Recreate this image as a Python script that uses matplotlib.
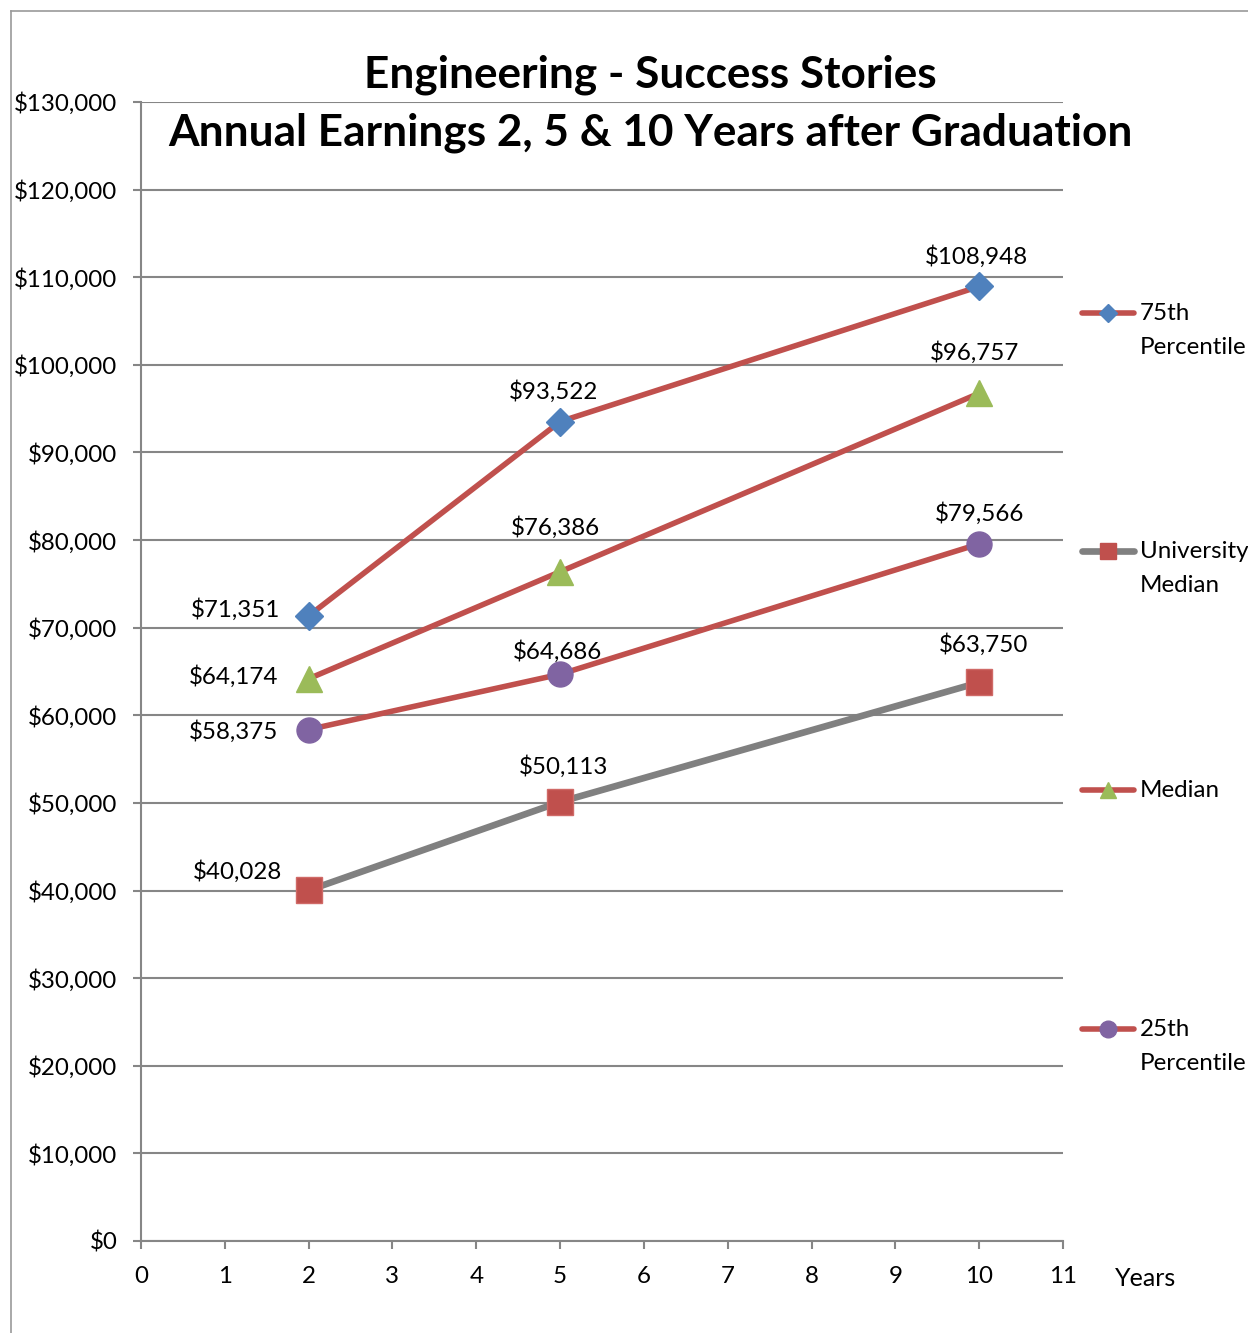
import matplotlib
matplotlib.use("Agg")
import matplotlib.pyplot as plt
from matplotlib.lines import Line2D

plt.rcParams['font.family'] = ['Lato', 'DejaVu Sans']

years = [2, 5, 10]
p75 = [71351, 93522, 108948]
median = [64174, 76386, 96757]
p25 = [58375, 64686, 79566]
univ = [40028, 50113, 63750]

series_names = ['75th\nPercentile', 'University\nMedian', 'Median', '25th\nPercentile']

red = '#C0504D'
gray = '#808080'
blue = '#4F81BD'
green = '#9BBB59'
purple = '#8064A2'
grid_c = '#868686'

W, H = 1248, 1333
fig = plt.figure(figsize=(W / 100, H / 100), dpi=100)
ax = fig.add_axes([141 / W, 1 - 1241 / H, (1063 - 141) / W, (1241 - 102) / H])

# frame of the chart area
fig.add_artist(Line2D([11 / W, 11 / W], [0, 1 - 11 / H], color='#9a9a9a', lw=1.2,
                      transform=fig.transFigure))
fig.add_artist(Line2D([11 / W, 1], [1 - 11 / H, 1 - 11 / H], color='#9a9a9a', lw=1.2,
                      transform=fig.transFigure))

ax.set_xlim(0, 11)
ax.set_ylim(0, 130000)
ax.set_yticks(range(0, 130001, 10000))
ax.set_xticks(range(0, 12))
ax.set_yticklabels(['${:,}'.format(v) for v in range(0, 130001, 10000)])
ax.yaxis.grid(True, color=grid_c, lw=1.5)
ax.set_axisbelow(True)
for s in ['top', 'right']:
    ax.spines[s].set_visible(False)
for s in ['left', 'bottom']:
    ax.spines[s].set_color(grid_c)
    ax.spines[s].set_linewidth(1.5)
ax.tick_params(axis='both', colors=grid_c, labelcolor='black', labelsize=17.4, width=1.5)
ax.tick_params(axis='y', length=6, pad=11)
ax.tick_params(axis='x', length=6, pad=12)

lw = 4.0
ax.plot(years, univ, color=gray, lw=4.8, zorder=2)
ax.plot(years, p25, color=red, lw=lw, zorder=2)
ax.plot(years, median, color=red, lw=lw, zorder=2)
ax.plot(years, p75, color=red, lw=lw, zorder=2)
ax.plot(years, univ, ls='none', marker='s', ms=19, mfc=red, mec='#d06a67', zorder=3)
ax.plot(years, p25, ls='none', marker='o', ms=18, mfc=purple, mec=purple, zorder=3)
ax.plot(years, median, ls='none', marker='^', ms=19, mfc=green, mec=green, zorder=3)
ax.plot(years, p75, ls='none', marker='D', ms=14, mfc=blue, mec=blue, zorder=3)

offsets = {
    'p75': [(-73, 6), (-7, 30), (-3, 30)],
    'median': [(-75, 2), (-5, 44), (-5, 41)],
    'p25': [(-75, -2), (-3, 23), (0, 30)],
    'univ': [(-71, 19), (3, 35), (4, 38)],
}
for key, vals in [('p75', p75), ('median', median), ('p25', p25), ('univ', univ)]:
    for x, y, off in zip(years, vals, offsets[key]):
        ax.annotate('${:,}'.format(y), (x, y), xytext=off, textcoords='offset pixels',
                    ha='center', va='center', fontsize=17.4)

ax.text(1146 / W, 1 - 1278 / H, 'Years', transform=fig.transFigure, ha='center',
        va='center', fontsize=18)

fig.text(650 / W, 1 - 75 / H, 'Engineering - Success Stories', ha='center', va='center',
         fontsize=31.8, fontweight='bold')
fig.text(650 / W, 1 - 133 / H, 'Annual Earnings 2, 5 & 10 Years after Graduation',
         ha='center', va='center', fontsize=31.8, fontweight='bold')

# legend
leg_y = [313, 551, 790, 1029]
leg_style = [
    (red, lw, 'D', 9, blue),
    (gray, 4.8, 's', 11, red),
    (red, lw, '^', 12, green),
    (red, lw, 'o', 12, purple),
]
for name, yy, (lc, llw, mk, ms, mc) in zip(series_names, leg_y, leg_style):
    yf = 1 - yy / H
    fig.add_artist(Line2D([1082 / W, 1134 / W], [yf, yf], color=lc, lw=llw,
                          solid_capstyle='round', transform=fig.transFigure))
    fig.add_artist(Line2D([1108 / W], [yf], marker=mk, ms=ms, mfc=mc, mec=mc,
                          transform=fig.transFigure))
    fig.text(1140 / W, yf + 10 / H, name, ha='left', va='top', fontsize=17.4,
             linespacing=1.75)

fig.savefig('out.png', dpi=100)
